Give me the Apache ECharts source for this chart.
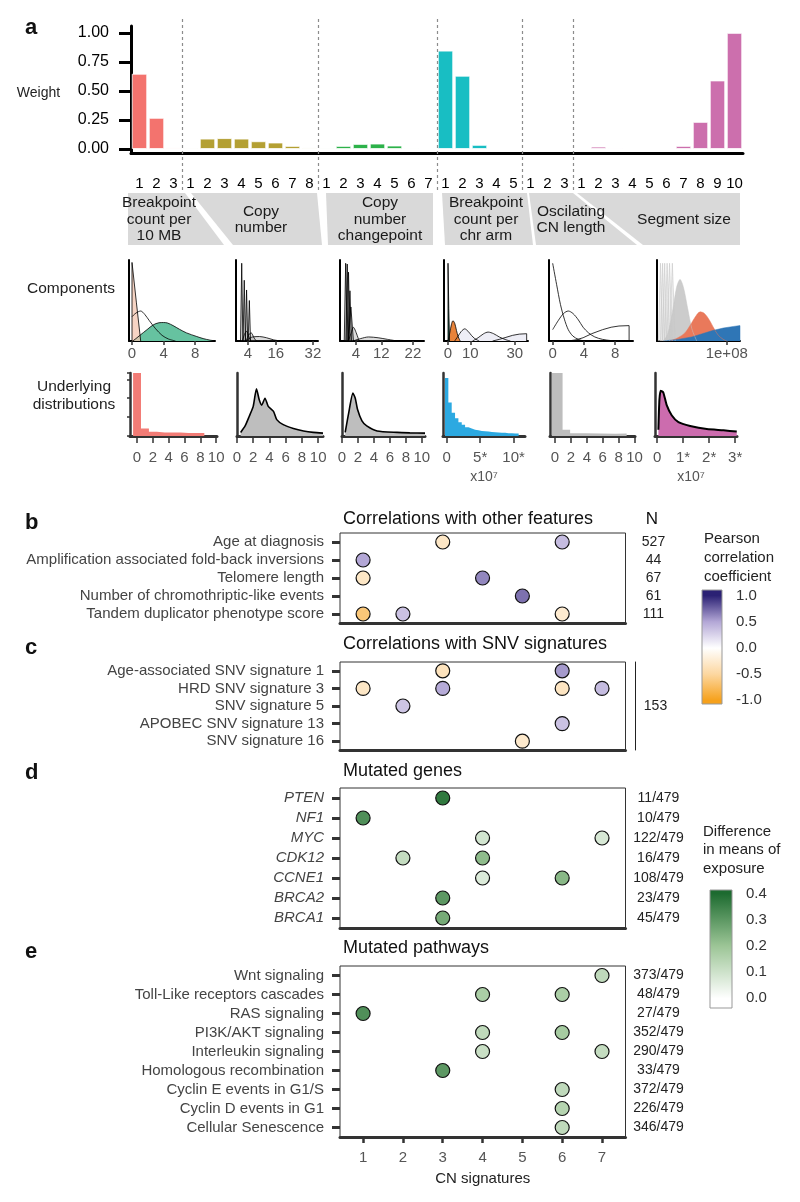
<!DOCTYPE html>
<html><head><meta charset="utf-8">
<script src="https://cdn.jsdelivr.net/npm/echarts@6/dist/echarts.min.js"></script>
<style>html,body{margin:0;padding:0;background:#fff}#c{width:800px;height:1202px}</style>
</head><body><div id="c"></div>
<script>
// ---------------- DATA ----------------
const featureNames = ['Breakpoint\ncount per\n10 MB','Copy\nnumber','Copy\nnumber\nchangepoint','Breakpoint\ncount per\nchr arm','Oscilating\nCN length','Segment size'];
const barTickLabels = ['1','2','3','1','2','3','4','5','6','7','8','1','2','3','4','5','6','7','1','2','3','4','5','1','2','3','1','2','3','4','5','6','7','8','9','10'];
const weightsBP10MB = [0.648, 0.268, 0.012];
const weightsCN = [0.01, 0.089, 0.093, 0.089, 0.066, 0.055, 0.026, 0.012];
const weightsCNCP = [0.01, 0.026, 0.043, 0.046, 0.029, 0.009, 0.004];
const weightsBPArm = [0.847, 0.631, 0.035, 0.004, 0.004];
const weightsOsc = [0.004, 0.004, 0.004];
const weightsSegSize = [0.004, 0.02, 0.009, 0.004, 0.004, 0.004, 0.026, 0.233, 0.59, 1.0];
const weightTicks = [0, 0.25, 0.5, 0.75, 1];

// mixture components (x, density scaled to panel height)
const compBP10MB_1 = [[0.1,0],[0.5,0.03],[1,0.07],[1.9,0.14],[2.7,0.2],[3.4,0.225],[4,0.228],[4.5,0.222],[5.2,0.19],[6,0.145],[6.9,0.1],[8.2,0.055],[9,0.03],[9.9,0.01],[10.5,0.003]];
const compBP10MB_2 = [[0,0],[0,0.97],[0.55,0.48],[1.1,0]];
const compBP10MB_3 = [[0,0.3],[0.5,0.345],[1.1,0.37],[1.6,0.33],[2.2,0.25],[3,0.15],[3.8,0.07],[4.6,0.025],[5.5,0]];
const compCN_1 = [[0.8,0],[1.3,0.96],[1.8,0]];
const compCN_2 = [[1.9,0],[2.4,0.75],[2.9,0]];
const compCN_3 = [[2.9,0],[3.4,0.63],[3.9,0]];
const compCN_4 = [[4.1,0],[4.6,0.5],[5.1,0]];
const compCN_5 = [[1.6,0],[2.6,0.09],[3.4,0.12],[4.4,0.05],[5.2,0]];
const compCN_6 = [[3.2,0],[4.4,0.08],[5.4,0.1],[6.6,0.04],[7.6,0]];
const compCN_7 = [[3,0],[6,0.05],[9,0.055],[12,0.04],[15,0.015],[18,0]];
const compCNCP_1 = [[0.3,0],[0.75,0.96],[1.2,0]];
const compCNCP_2 = [[0.8,0],[1.25,0.95],[1.7,0]];
const compCNCP_3 = [[1.2,0],[1.65,0.85],[2.1,0]];
const compCNCP_4 = [[1.6,0],[2.1,0.62],[2.6,0]];
const compCNCP_5 = [[1.6,0],[2.4,0.42],[3.2,0]];
const compCNCP_6 = [[1.6,0],[2.5,0.1],[3.2,0.17],[3.9,0.12],[5,0]];
const compCNCP_7 = [[3,0],[5.5,0.03],[8,0.05],[11,0.04],[14,0.02],[17,0]];
const compBPArm_1 = [[0,0],[0,0.96],[0.35,0.4],[0.7,0]];
const compBPArm_2 = [[0,0],[0.8,0.1],[1.5,0.2],[2.2,0.25],[3,0.22],[3.8,0.13],[4.6,0.05],[5.5,0]];
const compBPArm_3 = [[3,0],[4.5,0.06],[6,0.12],[7.5,0.15],[9,0.12],[10.5,0.07],[12,0.03],[14,0]];
const compBPArm_4 = [[11,0],[13.5,0.04],[16,0.09],[18,0.11],[20.5,0.09],[23,0.05],[26,0.015],[28,0]];
const compBPArm_5 = [[20,0],[23,0.02],[26,0.045],[29,0.07],[32,0.085],[35.3,0.09],[35.3,0]];
const compOsc_1 = [[0,0.96],[0.5,0.7],[1,0.45],[1.5,0.27],[2,0.14],[2.6,0.06],[3.3,0.02],[4,0]];
const compOsc_2 = [[0,0.14],[0.7,0.25],[1.4,0.34],[2,0.37],[2.6,0.34],[3.3,0.26],[3.9,0.17],[4.6,0.1],[5.4,0.05],[6.4,0.02],[7.5,0.005],[8.5,0]];
const compOsc_3 = [[2,0],[3,0.015],[3.9,0.04],[5,0.09],[6.4,0.14],[7.5,0.17],[8.5,0.185],[9.8,0.19],[9.8,0]];
const compSeg_1 = [[2,0],[5,0.96],[8,0]];
const compSeg_2 = [[5,0],[8,0.96],[11,0]];
const compSeg_3 = [[8,0],[11,0.96],[14,0]];
const compSeg_4 = [[11,0],[14.5,0.96],[18,0]];
const compSeg_5 = [[14,0],[18,0.96],[22,0]];
const compSeg_6 = [[18,0],[22,0.96],[26,0]];
const compSeg_7 = [[9,0],[15,0.08],[22,0.35],[28,0.66],[33,0.76],[38,0.66],[44,0.4],[50,0.15],[57,0]];
const compSeg_8 = [[19,0],[30,0.04],[40,0.1],[48,0.2],[55,0.3],[62,0.36],[68,0.34],[75,0.26],[82,0.15],[88,0.07],[95,0.02],[100,0]];
const compSeg_9 = [[9,0],[30,0.02],[50,0.05],[65,0.09],[80,0.13],[95,0.16],[110,0.18],[119,0.19],[119,0]];
const compTicks = [[0,4,8],[4,16,32],[4,12,22],[0,10,30],[0,4,8],[100]];

// underlying distributions (histogram bins: [left edge, height], last = right edge)
const distBP10MB = [[-0.5,1.0],[0.5,0.12],[1.5,0.066],[2.5,0.057],[3.5,0.057],[4.5,0.057],[5.5,0.046],[6.5,0.046],[7.5,0.046],[8.5,0.046]];
const distCN = [[0.45,0.057],[1,0.16],[1.5,0.31],[2,0.47],[2.4,0.75],[2.75,0.57],[3.05,0.49],[3.45,0.6],[3.85,0.47],[4.5,0.39],[4.9,0.26],[5.7,0.18],[6.95,0.12],[8.2,0.08],[9.4,0.057],[10.6,0.046]];
const distCNCP = [[0.4,0.057],[0.83,0.36],[1.37,0.68],[1.66,0.6],[1.95,0.42],[2.5,0.24],[3.1,0.16],[4.4,0.08],[6.9,0.057],[8.5,0.05],[10.4,0.045]];
const distBPArm = [[-0.25,0.92],[0.25,0.53],[0.75,0.37],[1.25,0.28],[1.75,0.22],[2.25,0.18],[2.75,0.14],[3.25,0.12],[3.75,0.1],[4.25,0.09],[4.75,0.08],[5.25,0.075],[5.75,0.07],[6.25,0.065],[6.75,0.06],[7.25,0.055],[7.75,0.05],[8.25,0.05],[8.75,0.045],[9.25,0.045],[9.75,0.04],[10.25,0.04],[10.75,0.04]];
const distOsc = [[-0.4,1.0],[0.95,0.1],[1.9,0.045],[3.8,0.04],[5.7,0.035],[7.6,0.04],[9.0,0.04]];
const distSeg = [[0.05,0.1],[0.09,0.58],[0.14,0.72],[0.24,0.69],[0.37,0.49],[0.56,0.33],[0.82,0.22],[1.27,0.16],[1.91,0.11],[2.55,0.09],[3.06,0.07]];
const distTicks = [[0,2,4,6,8,10],[0,2,4,6,8,10],[0,2,4,6,8,10],[0,5,10],[0,2,4,6,8,10],[0,1,2,3]];
const distTickLabels = [null,null,null,['0','5*','10*'],null,['0','1*','2*','3*']];

// panel b
const bRows = ['Age at diagnosis','Amplification associated fold-back inversions','Telomere length','Number of chromothriptic-like events','Tandem duplicator phenotype score'];
const bN = ['527','44','67','61','111'];
const bPoints = [[3,'Age at diagnosis',-0.3],[6,'Age at diagnosis',0.38],[1,'Amplification associated fold-back inversions',0.5],[1,'Telomere length',-0.3],[4,'Telomere length',0.62],[5,'Number of chromothriptic-like events',0.7],[1,'Tandem duplicator phenotype score',-0.65],[2,'Tandem duplicator phenotype score',0.35],[6,'Tandem duplicator phenotype score',-0.25]];
// panel c
const cRows = ['Age-associated SNV signature 1','HRD SNV signature 3','SNV signature 5','APOBEC SNV signature 13','SNV signature 16'];
const cN = '153';
const cPoints = [[3,'Age-associated SNV signature 1',-0.35],[6,'Age-associated SNV signature 1',0.55],[1,'HRD SNV signature 3',-0.3],[3,'HRD SNV signature 3',0.48],[6,'HRD SNV signature 3',-0.32],[7,'HRD SNV signature 3',0.38],[2,'SNV signature 5',0.33],[6,'APOBEC SNV signature 13',0.35],[5,'SNV signature 16',-0.27]];
// panel d
const dRows = ['PTEN','NF1','MYC','CDK12','CCNE1','BRCA2','BRCA1'];
const dN = ['11/479','10/479','122/479','16/479','108/479','23/479','45/479'];
const dPoints = [[3,'PTEN',0.37],[1,'NF1',0.32],[4,'MYC',0.09],[7,'MYC',0.08],[2,'CDK12',0.12],[4,'CDK12',0.22],[4,'CCNE1',0.07],[6,'CCNE1',0.23],[3,'BRCA2',0.3],[3,'BRCA1',0.26]];
// panel e
const eRows = ['Wnt signaling','Toll-Like receptors cascades','RAS signaling','PI3K/AKT signaling','Interleukin signaling','Homologous recombination','Cyclin E events in G1/S','Cyclin D events in G1','Cellular Senescence'];
const eN = ['373/479','48/479','27/479','352/479','290/479','33/479','372/479','226/479','346/479'];
const ePoints = [[7,'Wnt signaling',0.13],[4,'Toll-Like receptors cascades',0.17],[6,'Toll-Like receptors cascades',0.17],[1,'RAS signaling',0.32],[4,'PI3K/AKT signaling',0.13],[6,'PI3K/AKT signaling',0.18],[4,'Interleukin signaling',0.11],[7,'Interleukin signaling',0.12],[3,'Homologous recombination',0.3],[6,'Cyclin E events in G1/S',0.13],[6,'Cyclin D events in G1',0.15],[6,'Cellular Senescence',0.13]];
const sigTicks = [1,2,3,4,5,6,7];
const pearsonTicks = [-1,-0.5,0,0.5,1];
const diffTicks = [0,0.1,0.2,0.3,0.4];

// ---------------- STYLE / LAYOUT ----------------
const FONT = "'Liberation Sans', Arial, Helvetica, sans-serif";
const groupColors = ['#F3736E','#B4A033','#2DB24A','#18BEC3','#7E9FD8','#CC6FAD'];
const pearsonColors = ['#F6A11C','#FCD7A0','#FFFFFF','#B3A7D6','#2B2174'];
const diffColors = ['#FFFFFF','#9CC596','#1D6B30'];
function hexA(h,a){const n=parseInt(h.slice(1),16);return `rgba(${n>>16&255},${n>>8&255},${n&255},${a})`;}

const grids=[], xAxes=[], yAxes=[], series=[], graphics=[];
function addPanel(g,x,y){
  grids.push(Object.assign({containLabel:false}, g));
  const gi=grids.length-1;
  xAxes.push(Object.assign({gridIndex:gi, splitLine:{show:false}}, x));
  yAxes.push(Object.assign({gridIndex:gi, splitLine:{show:false}}, y));
  return {g:gi, x:xAxes.length-1, y:yAxes.length-1};
}
function txt(text,x,y,size,opts){
  opts=opts||{};
  graphics.push({type:'text', x:x, y:y, silent:true, z:10, style:{text:text, fill:opts.fill||'#111',
    font:`${opts.style||'normal'} ${opts.weight||'normal'} ${size}px ${FONT}`, textAlign:opts.align||'center',
    textVerticalAlign:'middle', lineHeight:opts.lh||size*1.15}});
}

// ---- panel a: weights bar chart ----
const weightGroups=[weightsBP10MB,weightsCN,weightsCNCP,weightsBPArm,weightsOsc,weightsSegSize];
const barData=[];
weightGroups.forEach((arr,gi)=>arr.forEach(v=>barData.push({value:v,itemStyle:{color: v<0.015?hexA(groupColors[gi],0.28):groupColors[gi]}})));
const nBars=barData.length;
const barL=131, barR=743;
const pBar=addPanel({left:barL, top:26, width:barR-barL, height:127.6},
  {type:'category', data:barTickLabels.map((_,i)=>i), axisLine:{onZero:false,lineStyle:{color:'#000',width:3}},
   axisTick:{alignWithLabel:true,interval:0,length:12,lineStyle:{color:'#000',width:3}},
   axisLabel:{interval:0,formatter:(v,i)=>barTickLabels[i],fontSize:15,color:'#000',margin:23,fontFamily:FONT}},
  {type:'value', min:-0.04, max:1.06, axisLine:{show:true,onZero:false,lineStyle:{color:'#000',width:3}},
   axisTick:{show:true,customValues:weightTicks,length:12,lineStyle:{color:'#000',width:3}},
   axisLabel:{customValues:weightTicks,formatter:v=>v.toFixed(2),fontSize:16,color:'#000',margin:22,fontFamily:FONT}});
series.push({type:'bar', xAxisIndex:pBar.x, yAxisIndex:pBar.y, data:barData, barCategoryGap:'10%', silent:true,
  itemStyle:{borderColor:'#fff',borderWidth:0.8}});

// dashed group separators
const bounds=[]; let cum=0;
weightGroups.slice(0,-1).forEach(a=>{cum+=a.length;bounds.push(cum);});
const pDash=addPanel({left:barL, top:17, width:barR-barL, height:173},
  {type:'value',min:0,max:nBars,show:false},{type:'value',min:0,max:1,show:false});
series.push({type:'line', xAxisIndex:pDash.x, yAxisIndex:pDash.y, data:[[0,0]], symbol:'none', silent:true,
  lineStyle:{opacity:0}, markLine:{symbol:'none',silent:true,label:{show:false},animation:false,
  lineStyle:{color:'#8c8c8c',type:[3,3],width:1.2}, data:bounds.map(b=>({xAxis:b}))}});

// feature label trapezoids
const featTop=[[128,185],[191,317],[326,433],[442,527],[529,573],[577,740]];
const featBot=[[128,224],[233,322],[328,433],[445,533],[536,637],[643,740]];
const featTextX=[159,261,380,486,571,684];
featureNames.forEach((n,i)=>{
  graphics.push({type:'polygon', silent:true, z:1, shape:{points:[[featTop[i][0],193],[featTop[i][1],193],[featBot[i][1],245],[featBot[i][0],245]]}, style:{fill:'#D9D9D9'}});
  txt(n, featTextX[i], 219.5, 15.5, {lh:16.5, fill:'#1a1a1a'});
});

// ---- components row ----
const compGX=[[129,215],[236,318],[340,424],[444,528],[549,633],[657,740]];
const compRange=[[-0.38,10.5],[-1.16,34.2],[-1.04,25.5],[-1.8,35.9],[-0.47,10.3],[0,119]];
const compPanels=compGX.map((gx,i)=>addPanel({left:gx[0],top:260,width:gx[1]-gx[0],height:81},
  {type:'value',min:compRange[i][0],max:compRange[i][1],axisLine:{onZero:false,lineStyle:{color:'#000',width:2}},
   axisTick:{customValues:compTicks[i],length:4,lineStyle:{color:'#333',width:1.5}},
   axisLabel:{customValues:compTicks[i],formatter:v=>i===5?'1e+08':String(v),fontSize:15,color:'#555',margin:5,fontFamily:FONT}},
  {type:'value',min:0,max:1,axisLine:{show:true,onZero:false,lineStyle:{color:'#000',width:2}},axisTick:{show:false},axisLabel:{show:false}}));
function curve(p,data,o){
  o=o||{};
  series.push({type:'line',xAxisIndex:p.x,yAxisIndex:p.y,data:data,symbol:'none',showSymbol:false,silent:true,
    smooth:o.smooth||false, step:o.step||false,
    lineStyle:{color:o.line||'#000',width:o.lw==null?0.8:o.lw,opacity:o.lo==null?1:o.lo},
    areaStyle:o.fill?{color:o.fill,opacity:o.fo==null?1:o.fo}:undefined, z:o.z||2});
}
curve(compPanels[0],compBP10MB_1,{fill:'#66C2A0',smooth:0.3});
curve(compPanels[0],compBP10MB_2,{fill:'#F3C6B0',fo:0.75});
curve(compPanels[0],compBP10MB_3,{smooth:0.3});
[compCN_1,compCN_2,compCN_3,compCN_4,compCN_5,compCN_6,compCN_7].forEach((d,i)=>curve(compPanels[1],d,{fill:'#666',fo:0.22,smooth:i>3?0.3:false}));
[compCNCP_1,compCNCP_2,compCNCP_3,compCNCP_4,compCNCP_5,compCNCP_6,compCNCP_7].forEach((d,i)=>curve(compPanels[2],d,{fill:'#666',fo:0.22,smooth:i>4?0.3:false}));
curve(compPanels[3],compBPArm_3,{fill:'#EEEEF6',smooth:0.3});
curve(compPanels[3],compBPArm_4,{fill:'#EEEEF6',smooth:0.3});
curve(compPanels[3],compBPArm_5,{fill:'#EEEEF6'});
curve(compPanels[3],compBPArm_2,{fill:'#E8833A',smooth:0.3});
curve(compPanels[3],compBPArm_1,{fill:'#1F5E4B'});
curve(compPanels[4],compOsc_1,{smooth:0.3});
curve(compPanels[4],compOsc_2,{smooth:0.3});
curve(compPanels[4],compOsc_3,{});
[compSeg_1,compSeg_2,compSeg_3,compSeg_4,compSeg_5,compSeg_6].forEach(d=>curve(compPanels[5],d,{fill:'#E2E2E2',fo:0.6,line:'#C8C8C8',lw:0.6}));
curve(compPanels[5],compSeg_7,{fill:'#C6C6C6',fo:0.9,line:'#C6C6C6',lw:0.5,smooth:0.3});
curve(compPanels[5],compSeg_8,{fill:'#E9795B',line:'#E9795B',lw:0.5,smooth:0.3});
curve(compPanels[5],compSeg_9,{fill:'#2F76B6',line:'#2F76B6',lw:0.5});

// ---- underlying distributions row ----
const distGX=[[130,217],[237,323],[342,425],[443,525],[550,635],[655,737]];
const distRange=[[-0.89,10.1],[0,10.6],[0,10.4],[-0.55,11.7],[-0.63,10.05],[-0.08,3.07]];
const distPanels=distGX.map((gx,i)=>addPanel({left:gx[0],top:373,width:gx[1]-gx[0],height:63},
  {type:'value',min:distRange[i][0],max:distRange[i][1],axisLine:{onZero:false,lineStyle:{color:'#333',width:3}},
   axisTick:{customValues:distTicks[i],length:7,lineStyle:{color:'#333',width:1.5}},
   axisLabel:{customValues:distTicks[i],formatter:v=>distTickLabels[i]?distTickLabels[i][distTicks[i].indexOf(v)]:String(v),fontSize:15,color:'#555',margin:14,fontFamily:FONT}},
  {type:'value',min:0,max:1,axisLine:{show:true,onZero:false,lineStyle:{color:'#333',width:2.5}},
   axisTick:{show:i===0,length:3,inside:false,lineStyle:{color:'#333',width:1.5}},axisLabel:{show:false},splitNumber:4}));
curve(distPanels[0],distBP10MB,{step:'end',fill:'#F27C76',lo:0});
curve(distPanels[1],distCN,{fill:'#BEBEBE',lw:1.6,smooth:0.2});
curve(distPanels[2],distCNCP,{fill:'#BEBEBE',lw:1.6,smooth:0.2});
curve(distPanels[3],distBPArm,{step:'end',fill:'#2CA9E1',lo:0});
curve(distPanels[4],distOsc,{step:'end',fill:'#BDBDBD',lo:0});
curve(distPanels[5],distSeg,{fill:'#CC6CAE',lw:2,smooth:0.2});

// ---- dot panels b-e ----
const sigMin=0.42, sigMax=7.59, dotL=340, dotW=285.5;
function dotPanel(top,height,rows,italic,showX){
  return addPanel({left:dotL,top:top,width:dotW,height:height,show:true,borderColor:'#333',borderWidth:1},
    {type:'value',min:sigMin,max:sigMax,axisLine:{show:true,onZero:false,lineStyle:{color:'#333',width:3}},
     axisTick:{show:showX,customValues:sigTicks,length:6,lineStyle:{color:'#333',width:2.5}},
     axisLabel:{show:showX,customValues:sigTicks,fontSize:15,color:'#555',margin:13,fontFamily:FONT},
     name:showX?'CN signatures':'',nameLocation:'middle',nameGap:34,nameTextStyle:{fontSize:15,color:'#222',fontFamily:FONT}},
    {type:'category',data:rows,inverse:true,axisLine:{show:false,onZero:false},
     axisTick:{show:true,alignWithLabel:true,interval:0,length:8,lineStyle:{color:'#333',width:3}},
     axisLabel:{interval:0,fontSize:15,color:'#444',margin:16,fontStyle:italic?'italic':'normal',fontFamily:FONT}});
}
function rightAxis(p,rows,fmt,margin,offset,line){
  yAxes.push({gridIndex:p.g,type:'category',data:rows,inverse:true,position:'right',offset:offset||0,
    axisLine:{show:!!line,onZero:false,lineStyle:{color:'#222',width:1}},axisTick:{show:false},splitLine:{show:false},
    axisLabel:{interval:0,formatter:fmt,align:'center',margin:margin,fontSize:14,color:'#222',fontFamily:FONT}});
}
const pB=dotPanel(533,90,bRows,false,false);
const pC=dotPanel(662,88,cRows,false,false);
const pD=dotPanel(788,140,dRows,true,false);
const pE=dotPanel(966,171,eRows,false,true);
rightAxis(pB,bRows,(v,i)=>bN[i],28);
rightAxis(pC,cRows,(v,i)=>i===Math.floor(cRows.length/2)?cN:'',20,10,true);
rightAxis(pD,dRows,(v,i)=>dN[i],33);
rightAxis(pE,eRows,(v,i)=>eN[i],33);
const dotSeriesIdx=[];
[[pB,bPoints],[pC,cPoints],[pD,dPoints],[pE,ePoints]].forEach(([p,pts])=>{
  series.push({type:'scatter',xAxisIndex:p.x,yAxisIndex:p.y,data:pts,symbolSize:14,silent:true,z:5,
    itemStyle:{borderColor:'#111',borderWidth:1.2,opacity:1}});
  dotSeriesIdx.push(series.length-1);
});

// ---- colour bars ----
function colorBar(left,top,w,h,vmin,vmax,cbMin,cbMax,colors,ticks,dec,margin){
  const p=addPanel({left:left,top:top,width:w,height:h},
    {type:'category',data:['cb'],show:false},
    {type:'value',min:cbMin,max:cbMax,position:'right',z:6,axisLine:{show:false,onZero:false},
     axisTick:{customValues:ticks,inside:true,length:4,lineStyle:{color:'#fff',width:1.5}},
     axisLabel:{customValues:ticks,formatter:v=>v.toFixed(dec),fontSize:15,color:'#333',margin:margin,fontFamily:FONT}});
  yAxes.push({gridIndex:p.g,type:'value',min:cbMin,max:cbMax,position:'left',z:6,axisLine:{show:false,onZero:false},
    axisTick:{customValues:ticks,inside:true,length:4,lineStyle:{color:'#fff',width:1.5}},axisLabel:{show:false},splitLine:{show:false}});
  const stops=[];
  colors.forEach((c,i)=>{const v=vmin+i*(vmax-vmin)/(colors.length-1);stops.push({offset:(cbMax-v)/(cbMax-cbMin),color:c});});
  stops.reverse();
  stops.unshift({offset:0,color:colors[colors.length-1]});
  stops.push({offset:1,color:colors[0]});
  series.push({type:'custom',xAxisIndex:p.x,yAxisIndex:p.y,data:[[0,0]],silent:true,z:2,
    renderItem:(params,api)=>{
      const a=api.coord([0,cbMax]), b=api.coord([0,cbMin]); const bw=api.size([1,0])[0];
      return {type:'rect',shape:{x:a[0]-bw/2,y:a[1],width:bw,height:b[1]-a[1]},
        style:{fill:new echarts.graphic.LinearGradient(0,0,0,1,stops),stroke:'#999',lineWidth:1}};
    }});
}
colorBar(702,590,20,114,-1,1,-1.077,1.115,pearsonColors,pearsonTicks,1,14);
colorBar(710,890,22,118,0,0.4,-0.038,0.415,diffColors,diffTicks,1,14);

// ---- free texts ----
txt('a',25,28,22,{weight:'bold',align:'left'});
txt('Weight',38.5,93,14,{fill:'#222'});
txt('Components',71,289,15.5,{fill:'#222'});
txt('Underlying\ndistributions',74,396,15.5,{fill:'#222',lh:18});
txt('x10\u2077',484,477,14,{fill:'#555'});
txt('x10\u2077',691,477,14,{fill:'#555'});
txt('b',25,523,22,{weight:'bold',align:'left'});
txt('c',25,648,22,{weight:'bold',align:'left'});
txt('d',25,773,22,{weight:'bold',align:'left'});
txt('e',25,952,22,{weight:'bold',align:'left'});
txt('Correlations with other features',343,519,18,{align:'left'});
txt('Correlations with SNV signatures',343,644,18,{align:'left'});
txt('Mutated genes',343,771,18,{align:'left'});
txt('Mutated pathways',343,948,18,{align:'left'});
txt('N',652,519,17);
txt('Pearson\ncorrelation\ncoefficient',704,558,15,{align:'left',lh:19,fill:'#222'});
txt('Difference\nin means of\nexposure',703,850,15,{align:'left',lh:18.5,fill:'#222'});

const chart=echarts.init(document.getElementById('c'),null,{renderer:'canvas',width:800,height:1202});
chart.setOption({
  animation:false,
  backgroundColor:'#fff',
  textStyle:{fontFamily:FONT},
  grid:grids, xAxis:xAxes, yAxis:yAxes, series:series, graphic:graphics,
  visualMap:[
    {type:'continuous',show:false,min:-1,max:1,dimension:2,seriesIndex:[dotSeriesIdx[0],dotSeriesIdx[1]],inRange:{color:pearsonColors}},
    {type:'continuous',show:false,min:0,max:0.4,dimension:2,seriesIndex:[dotSeriesIdx[2],dotSeriesIdx[3]],inRange:{color:diffColors}}
  ]
});
</script>
</body></html>
